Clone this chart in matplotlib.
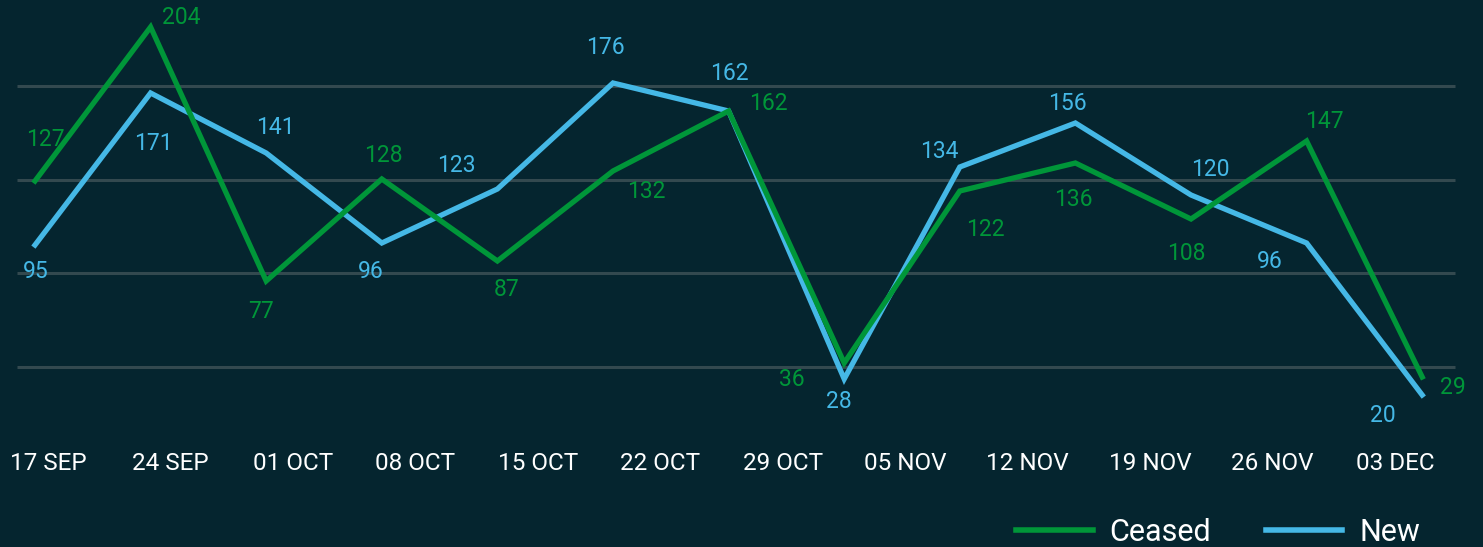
import numpy as np
import matplotlib
matplotlib.use("Agg")
import matplotlib.pyplot as plt

# Datos
weeks = ["17 SEP", "24 SEP", "01 OCT", "08 OCT", "15 OCT", "22 OCT",
         "29 OCT", "05 NOV", "12 NOV", "19 NOV", "26 NOV", "03 DEC"]
ceased = [127, 204, 77, 128, 87, 132, 162, 36, 122, 136, 108, 147, 29]
new = [95, 171, 141, 96, 123, 176, 162, 28, 134, 156, 120, 96, 20]
grid_levels = [34, 81, 127.5, 174.5]

# Posición de etiquetas (px: dx, dy)
ceased_off = [(10, 41), (31, 9), (-5, -30), (2, 24), (9, -28), (33, -20), (40, 8),
              (-52, -16), (26, -38), (-2, -36), (-5, -34), (18, 19), (31, -10)]
new_off = [(1, -27), (3, -50), (9, 25), (-11, -28), (-41, 24), (-8, 36), (1, 38),
           (-5, -23), (-20, 15), (-8, 20), (19, 25), (-37, -19), (-39, -20)]

bg = "#05252f"
green = "#009639"
blue = "#45b8e6"
plt.rcParams["font.family"] = ["Roboto", "DejaVu Sans"]

fig = plt.figure(figsize=(14.83, 5.47), dpi=100, facecolor=bg)
ax = fig.add_axes([0, 0, 1, 1])
ax.set_facecolor(bg)
px = 115.6
ax.set_xlim(-35 / px, (1483 - 35) / px)
ax.set_ylim(-56, 217.5)
ax.axis("off")

ax.hlines(grid_levels, (17 - 35) / px, (1455 - 35) / px, color="#33494f", lw=2.2, zorder=1)

x = np.arange(len(ceased))
ax.plot(x, ceased, color=green, lw=3.8, solid_joinstyle="miter", zorder=3, label="Ceased")
ax.plot(x, new, color=blue, lw=3.8, solid_joinstyle="miter", zorder=2, label="New")

for i, v in enumerate(ceased):
    ax.annotate(str(v), (i, v), xytext=ceased_off[i], textcoords="offset pixels",
                ha="center", va="center", color=green, fontsize=16.5)
for i, v in enumerate(new):
    ax.annotate(str(v), (i, v), xytext=new_off[i], textcoords="offset pixels",
                ha="center", va="center", color=blue, fontsize=16.5)

# Etiquetas del eje x
for j, w in enumerate(weeks):
    xp = (48 + 122.45 * j - 35) / px
    ax.text(xp, -14, w, ha="center", va="center", color="white", fontsize=17.5)

leg = ax.legend(loc="lower right", bbox_to_anchor=(0.976, -0.05), ncol=2, frameon=False,
                fontsize=22, handlelength=2.5, handletextpad=0.55, columnspacing=1.8)
for t in leg.get_texts():
    t.set_color("white")
for h in leg.legend_handles:
    h.set_linewidth(4)

fig.savefig("out.png", dpi=100, facecolor=bg)
